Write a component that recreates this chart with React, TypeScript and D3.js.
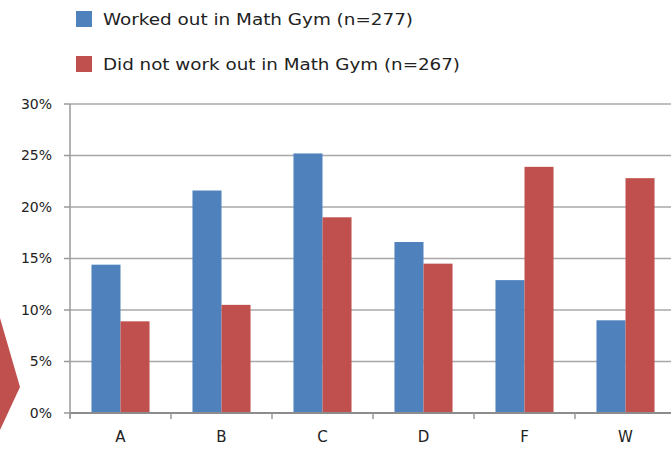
import React from 'react';
import * as d3 from 'd3';

const categories = ['A', 'B', 'C', 'D', 'F', 'W'];
const seriesNames = ['Worked out in Math Gym (n=277)', 'Did not work out in Math Gym (n=267)'];
const workedOut = [0.144, 0.216, 0.252, 0.166, 0.129, 0.09];
const didNotWorkOut = [0.089, 0.105, 0.19, 0.145, 0.239, 0.228];
const yTicks = [0, 0.05, 0.1, 0.15, 0.2, 0.25, 0.3];
const colors = ['#4f81bd', '#c0504d'];

const width = 671;
const height = 450;

const App: React.FC = () => {
  const x = d3.scaleBand().domain(categories).range([70, 676]).paddingInner(0).paddingOuter(0);
  const xInner = d3.scaleBand()
    .domain(['0', '1'])
    .range([0, x.bandwidth()])
    .paddingInner(0)
    .paddingOuter(0.74);
  const y = d3.scaleLinear().domain([0, 0.3]).range([413, 104]);
  const fmt = d3.format('.0%');
  const series = [workedOut, didNotWorkOut];

  return (
    <svg width={width} height={height} style={{ position: 'absolute', left: 0, top: 0 }}>
      <rect width={width} height={height} fill="#fff" />

      {/* decorative chevron at the left edge */}
      <path d="M0,318 L20,387 L0,430 Z" fill="#c0504d" />

      {/* legend */}
      {seriesNames.map((name, i) => (
        <g key={name} transform={`translate(0, ${i * 45})`}>
          <rect x={76} y={11} width={16} height={16} fill={colors[i]} />
          <text
            x={103}
            y={25}
            fontFamily="DejaVu Sans"
            fontSize={16}
            fill="#222"
            textLength={i === 0 ? 310 : 357}
            lengthAdjust="spacingAndGlyphs"
          >
            {name}
          </text>
        </g>
      ))}

      {/* gridlines */}
      {yTicks.filter(t => t > 0).map(t => (
        <line key={t} x1={70} x2={width} y1={y(t)} y2={y(t)} stroke="#a8a8a8" strokeWidth={1.6} />
      ))}

      {/* y axis */}
      <line x1={70} x2={70} y1={y(0.3)} y2={y(0) + 5} stroke="#9a9a9a" strokeWidth={1.5} />
      {yTicks.map(t => (
        <g key={t}>
          <line x1={64} x2={70} y1={y(t)} y2={y(t)} stroke="#9a9a9a" strokeWidth={1.5} />
          <text x={52} y={y(t)} dy="0.35em" textAnchor="end" fontFamily="DejaVu Sans" fontSize={14} fill="#222">
            {fmt(t)}
          </text>
        </g>
      ))}

      {/* bars */}
      {categories.map((c, ci) => (
        <g key={c} transform={`translate(${x(c)}, 0)`}>
          {series.map((vals, si) => (
            <rect
              key={si}
              x={xInner(String(si))}
              y={y(vals[ci])}
              width={xInner.bandwidth()}
              height={y(0) - y(vals[ci])}
              fill={colors[si]}
            />
          ))}
        </g>
      ))}

      {/* x axis */}
      <line x1={70} x2={width} y1={y(0)} y2={y(0)} stroke="#8c8c8c" strokeWidth={2} />
      {categories.map(c => (
        <g key={c}>
          <line x1={x(c)} x2={x(c)} y1={y(0)} y2={y(0) + 6} stroke="#9a9a9a" strokeWidth={1.5} />
          <text
            x={(x(c) || 0) + x.bandwidth() / 2}
            y={442}
            textAnchor="middle"
            fontFamily="DejaVu Sans"
            fontSize={15}
            fill="#222"
          >
            {c}
          </text>
        </g>
      ))}
    </svg>
  );
};

export default App;
